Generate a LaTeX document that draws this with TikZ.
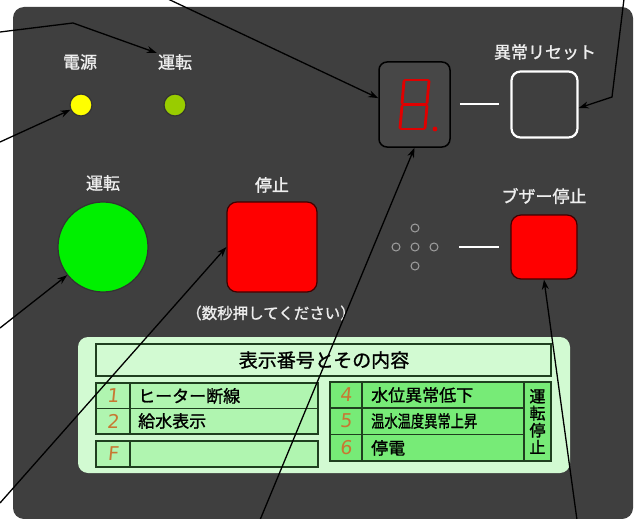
\documentclass[tikz,border=0pt]{standalone}
\usepackage{fontspec}
\setmainfont{Noto Sans CJK JP}[FakeBold=1.2]
\newfontfamily\segfont{DejaVu Sans}[FakeSlant=0.1]
\usetikzlibrary{arrows.meta}

\definecolor{panelgray}{HTML}{3F3F3F}
\definecolor{dispgray}{HTML}{474747}
\definecolor{paneltext}{HTML}{EEEEEE}
\definecolor{ledyellow}{HTML}{FFFF00}
\definecolor{ledgreen}{HTML}{99CC00}
\definecolor{btngreen}{HTML}{00F000}
\definecolor{btnred}{HTML}{FF0000}
\definecolor{tablebg}{HTML}{D2FAD2}
\definecolor{rowlight}{HTML}{B0F5B0}
\definecolor{rowdark}{HTML}{77EB77}
\definecolor{tableline}{HTML}{1F3F1F}
\definecolor{numorange}{HTML}{C87832}
\definecolor{segred}{HTML}{E00000}

\tikzset{
  paneltxt/.style={text=paneltext, inner sep=1pt, font=\fontsize{17pt}{19pt}\selectfont},
  led/.style={circle, draw=black!80, line width=1.2pt, minimum size=22pt, inner sep=0pt},
  redbtn/.style={draw=black!75!red, fill=btnred, line width=1.2pt, rounded corners=10pt, inner sep=0pt},
  callout/.style={black, line width=1.3pt, -{Stealth[length=10pt,width=7pt]}},
  cell/.style={draw=tableline, line width=1.3pt},
  rowtxt/.style={anchor=west, inner sep=0pt, font=\fontsize{17pt}{18pt}\selectfont},
  numtxt/.style={text=numorange, inner sep=0pt, font=\segfont\fontsize{19pt}{20pt}\selectfont},
  seg/.style={segred, line width=2.8pt, line cap=round},
}

\begin{document}
\begin{tikzpicture}[x=1pt, y=-1pt]
  \useasboundingbox (0,0) rectangle (635,519);

  % panel
  \fill[panelgray, rounded corners=11pt] (13,7) rectangle (633,519);

  % lamps
  \node[paneltxt] (lblpow) at (80,62) {電源};
  \node[paneltxt] (lblrun) at (175,62) {運転};
  \node[led, fill=ledyellow] (ledpow) at (81,105) {};
  \node[led, fill=ledgreen] (ledrun) at (175,105) {};

  % display
  \node[draw=black, fill=dispgray, line width=1.5pt, rounded corners=8pt,
        minimum width=71pt, minimum height=85pt] (disp) at (414.5,104.5) {};
  \draw[seg] (405,80) -- (428,80);
  \draw[seg] (404,81) -- (402,103);
  \draw[seg] (429,81) -- (427,103);
  \draw[seg] (403,104.5) -- (426,104.5);
  \draw[seg] (402,106) -- (400,128);
  \draw[seg] (427,106) -- (425,128);
  \draw[seg] (401,129) -- (424,129);
  \fill[segred] (435,129) circle (2.4pt);

  % reset
  \node[paneltxt] (lblreset) at (545,52) {異常リセット};
  \node[draw=white, line width=2.2pt, rounded corners=9pt, minimum size=66pt] (reset) at (544.5,104.5) {};
  \draw[white, line width=2pt] ([xshift=9pt]disp.east) -- ([xshift=-11pt]reset.west);

  % run / stop
  \node[paneltxt] (lblrunbtn) at (103,183) {運転};
  \node[circle, draw=black!80, fill=btngreen, line width=1.2pt, minimum size=90pt] (run) at (103,247) {};
  \node[paneltxt] (lblstop) at (272,185) {停止};
  \node[redbtn, minimum size=90pt] (stop) at (272,247) {};
  \node[paneltxt, font=\fontsize{15.5pt}{17pt}\selectfont] (lblnote) at (271,313) {（数秒押してください）};

  % buzzer
  \node[paneltxt] (lblbuzz) at (544,196) {ブザー停止};
  \node[redbtn, minimum width=66pt, minimum height=64pt] (buzz) at (544,247) {};
  \foreach \dx/\dy in {0/-19, -19/0, 0/0, 19/0, 0/19}
    \draw[gray!75, line width=1pt] (415+\dx,247+\dy) circle (4pt);
  \draw[white, line width=2pt] (459,247) -- ([xshift=-11pt]buzz.west);

  % table
  \fill[tablebg, rounded corners=10pt] (78,337) rectangle (570,473);
  \draw[cell, fill=tablebg] (96,344) rectangle (551,376);
  \node[inner sep=0pt, font=\fontsize{19pt}{21pt}\selectfont] (ttl) at (324,360) {表示番号とその内容};

  \draw[cell, fill=rowlight] (96,383) rectangle (318,434);
  \draw[cell] (96,408.5) -- (318,408.5);
  \draw[cell] (130,383) -- (130,434);
  \draw[cell, fill=rowlight] (96,441) rectangle (318,467);
  \draw[cell] (130,441) -- (130,467);

  \draw[cell, fill=rowdark] (330,382) rectangle (551,461);
  \draw[cell] (330,408) -- (524,408);
  \draw[cell] (330,434.5) -- (524,434.5);
  \draw[cell] (362,382) -- (362,461);
  \draw[cell] (524,382) -- (524,461);

  \node[numtxt] (n1) at (113,396) {1};
  \node[numtxt] (n2) at (113,421) {2};
  \node[numtxt] (nf) at (113,454) {F};
  \node[numtxt] (n4) at (346,395) {4};
  \node[numtxt] (n5) at (346,421) {5};
  \node[numtxt] (n6) at (346,448) {6};

  \node[rowtxt] (t1) at (138,396) {ヒーター断線};
  \node[rowtxt] (t2) at (138,421) {給水表示};
  \node[rowtxt] (t4) at (371,395) {水位異常低下};
  \node[rowtxt] (t5) at (371,421) {\scalebox{0.78}[1]{温水温度異常上昇}};
  \node[rowtxt] (t6) at (371,448) {停電};
  \node[inner sep=0pt, align=center, font=\fontsize{16pt}{17pt}\selectfont] (tstop) at (537.5,421.5) {運\\転\\停\\止};

  % callouts
  \coordinate (c1) at (0,32);
  \coordinate (c1b) at (73,23);
  \coordinate (c2) at (0,142);
  \coordinate (c3) at (168,-1);
  \coordinate (c4) at (624,-1);
  \coordinate (c4b) at (612,97);
  \coordinate (c5) at (0,328);
  \coordinate (c6) at (0,503);
  \coordinate (c7) at (260,520);
  \coordinate (c8) at (577,520);
  \draw[callout] (c1) -- (c1b) -- (lblrun.north west);
  \draw[callout] (c2) -- (ledpow);
  \draw[callout] (c3) -- (disp.170);
  \draw[callout] (c4) -- (c4b) -- (reset.-6);
  \draw[callout] (c5) -- (run);
  \draw[callout] (c6) -- (stop.west);
  \draw[callout] (c7) -- (disp.south);
  \draw[callout] (c8) -- (buzz.south);
\end{tikzpicture}
\end{document}
